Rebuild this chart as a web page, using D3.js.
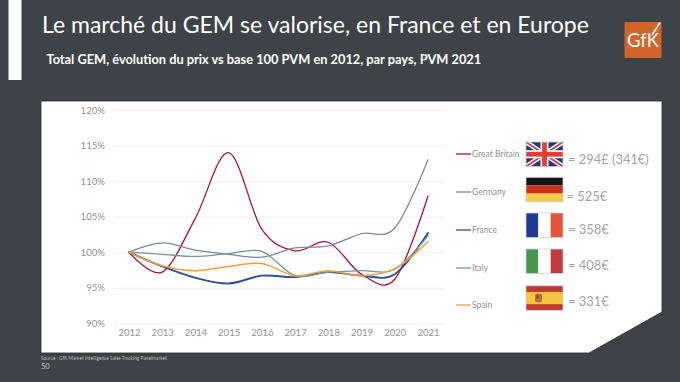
<!DOCTYPE html>
<html><head><meta charset="utf-8">
<script src="https://cdn.jsdelivr.net/npm/d3@7/dist/d3.min.js"></script>
<style>html,body{margin:0;padding:0;background:#3e4347;overflow:hidden}svg{display:block}text{font-family:Lato,sans-serif}</style>
</head><body><svg id="c" width="680" height="382"></svg>
<script>
const years=[2012,2013,2014,2015,2016,2017,2018,2019,2020,2021];
const yTicks=[90,95,100,105,110,115,120];
const greatBritain=[100,97.2,104.8,114,103.2,100.2,101.4,96.9,96.2,107.9];
const germany=[100,101.3,100.3,99.7,99.3,100.6,100.9,102.6,103.4,113];
const france=[100,98,96.4,95.6,96.7,96.5,97.2,96.7,96.9,102.7];
const italy=[100,99.7,99.4,99.8,100.1,96.7,97.2,97.4,97.6,102.3];
const spain=[100,98.1,97.4,98,98.4,96.7,97.4,96.7,97.7,101.5];
const names=["Great Britain","Germany","France","Italy","Spain"];
const colors=["#a3153f","#7f8890","#2f4f9a","#6f9c98","#f0a040"];
const widths=[1.3,1.3,1.9,1.3,1.5];
const prices=["= 294£ (341€)","= 525€","= 358€","= 408€","= 331€"];
const seriesList=[greatBritain,germany,france,italy,spain];

const svg=d3.select("#c");
const dark="#3e4347";
svg.append("rect").attr("width",680).attr("height",382).attr("fill",dark);
svg.append("rect").attr("x",8.5).attr("y",0).attr("width",13).attr("height",80).attr("fill","#fff");
svg.append("path").attr("d","M41 101H662V312L589 353H41Z").attr("fill","#fff").attr("stroke","#22282c").attr("stroke-width",.8);

svg.append("text").attr("x",42).attr("y",33).attr("font-size",23).attr("fill","#fff").text("Le marché du GEM se valorise, en France et en Europe");
svg.append("text").attr("x",46.5).attr("y",64).attr("font-size",12.8).attr("font-weight",700).attr("fill","#fff").text("Total GEM, évolution du prix vs base 100 PVM en 2012, par pays, PVM 2021");
svg.append("text").attr("x",41).attr("y",360).attr("font-size",4.8).attr("fill","#b5b8ba").text("Source : GfK Market Intelligence Sales Tracking Panelmarket");
svg.append("text").attr("x",41).attr("y",369).attr("font-size",7.5).attr("fill","#c4c6c8").text("50");

// logo
const logo=svg.append("g");
logo.append("rect").attr("x",624.5).attr("y",22).attr("width",37).attr("height",36).attr("fill","#d2652b");
logo.append("text").attr("x",643).attr("y",47).attr("text-anchor","middle").attr("font-size",18.5).attr("fill","#fff").text("GfK");
logo.append("line").attr("x1",652).attr("y1",35).attr("x2",660).attr("y2",22.5).attr("stroke","#fff").attr("stroke-width",1.6);

// chart
const x=d3.scalePoint().domain(years).range([129,428]);
const y=d3.scaleLinear().domain([90,120]).range([323.3,110]);
const gy=svg.append("g").attr("transform","translate(113,0)").call(d3.axisLeft(y).tickValues(yTicks).tickSize(0).tickPadding(8).tickFormat(d=>d+"%"));
gy.select(".domain").remove();
gy.selectAll("text").attr("font-size",9.6).attr("fill","#939393").style("font-family","Lato");
gy.selectAll(".tick").append("line").attr("x1",0).attr("x2",332).attr("stroke","#f0f0f0").attr("stroke-width",1);
const gx=svg.append("g").attr("transform","translate(0,323.3)").call(d3.axisBottom(x).tickSize(0).tickPadding(6));
gx.select(".domain").remove();
gx.selectAll("text").attr("font-size",9.6).attr("fill","#939393").style("font-family","Lato");

const line=d3.line().x((d,i)=>x(years[i])).y(d=>y(d)).curve(d3.curveCardinal.tension(0));
svg.append("g").attr("fill","none").attr("stroke-linecap","round").selectAll("path").data(seriesList).join("path")
  .attr("d",line).attr("stroke",(d,i)=>colors[i]).attr("stroke-width",(d,i)=>widths[i]);

// legend
const legY=[154,192,230,268,305];
const leg=svg.append("g").selectAll("g").data(names).join("g");
leg.append("line").attr("x1",456).attr("x2",471).attr("y1",(d,i)=>legY[i]).attr("y2",(d,i)=>legY[i]).attr("stroke",(d,i)=>colors[i]).attr("stroke-width",1.3);
leg.append("text").attr("x",472).attr("y",(d,i)=>legY[i]+3.2).attr("font-size",8.5).attr("fill","#939393").text(d=>d);

// flags
const fw=37,fh=24.5,fx=526,flagY=[142,177.3,213,249,285.8];
const priceX=[568,566.5,568,568,568],priceY=[164,201,233.5,270,306];
const fl=(g,px,py,pw,ph,c)=>g.append("rect").attr("x",px).attr("y",py).attr("width",pw).attr("height",ph).attr("fill",c);
// UK
{const g=svg.append("g"),Y=flagY[0];
 fl(g,fx,Y,fw,fh,"#27357a");
 const dg=(w,c)=>g.append("path").attr("d",`M${fx} ${Y}L${fx+fw} ${Y+fh}M${fx+fw} ${Y}L${fx} ${Y+fh}`).attr("stroke",c).attr("stroke-width",w);
 dg(4.5,"#fff");dg(1.6,"#d8343c");
 fl(g,fx+fw/2-4,Y,8,fh,"#fff");fl(g,fx,Y+fh/2-4,fw,8,"#fff");
 fl(g,fx+fw/2-2.4,Y,4.8,fh,"#e0403a");fl(g,fx,Y+fh/2-2.4,fw,4.8,"#e0403a");}
// Germany
{const g=svg.append("g"),Y=flagY[1];
 fl(g,fx,Y,fw,fh/3,"#141414");fl(g,fx,Y+fh/3,fw,fh/3,"#c9301c");fl(g,fx,Y+2*fh/3,fw,fh/3,"#f4cd45");}
// France
{const g=svg.append("g"),Y=flagY[2];
 fl(g,fx,Y,fw/3,fh,"#1f3a94");fl(g,fx+fw/3,Y,fw/3,fh,"#fff");fl(g,fx+2*fw/3,Y,fw/3,fh,"#e0553c");}
// Italy
{const g=svg.append("g"),Y=flagY[3];
 fl(g,fx,Y,fw/3,fh,"#4a9650");fl(g,fx+fw/3,Y,fw/3,fh,"#fff");fl(g,fx+2*fw/3,Y,fw/3,fh,"#c03c3e");}
// Spain
{const g=svg.append("g"),Y=flagY[4];
 fl(g,fx,Y,fw,fh,"#bd3a30");fl(g,fx,Y+fh/4,fw,fh/2,"#f4c441");
 g.append("rect").attr("x",fx+9).attr("y",Y+8).attr("width",7).attr("height",8.5).attr("rx",2).attr("fill","#b5703a");
 g.append("rect").attr("x",fx+10.5).attr("y",Y+9.5).attr("width",2).attr("height",3).attr("fill","#a82a28");}
// thin grey frame on every flag
svg.append("g").selectAll("rect").data(flagY).join("rect").attr("x",fx).attr("y",d=>d).attr("width",fw).attr("height",fh)
  .attr("fill","none").attr("stroke","#cfcfcf").attr("stroke-width",.8);
svg.append("g").selectAll("text").data(prices).join("text").attr("x",(d,i)=>priceX[i]).attr("y",(d,i)=>priceY[i])
  .attr("font-size",12.9).attr("fill","#a4a4a4").text(d=>d);
</script></body></html>
